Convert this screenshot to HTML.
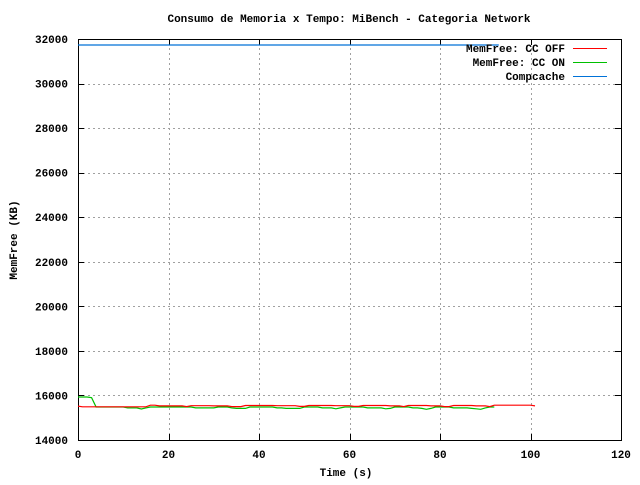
<!DOCTYPE html>
<html><head><meta charset="utf-8"><style>
body{margin:0;background:#fff}
svg text{font-family:"Liberation Mono",monospace;font-size:11px;font-weight:bold;fill:#000}
</style></head><body>
<svg id="chart" width="640" height="480" xmlns="http://www.w3.org/2000/svg">
<rect width="640" height="480" fill="#fff"/>
<g id="grid"></g><g id="axes"></g><g id="series"></g><g id="legend"></g>
</svg>
<script>
const xTicks=[0,20,40,60,80,100,120];
const yTicks=[14000,16000,18000,20000,22000,24000,26000,28000,30000,32000];
const times=[];for(let t=0;t<=101;t++)times.push(t);
const ccOff=[15520,15490,15490,15490,15490,15490,15490,15490,15490,15490,15490,15490,15490,15490,15490,15490,15560,15560,15530,15530,15530,15530,15530,15530,15500,15540,15540,15540,15540,15540,15530,15530,15530,15530,15500,15500,15500,15550,15550,15550,15550,15550,15550,15550,15540,15540,15540,15540,15540,15510,15510,15550,15550,15550,15550,15550,15550,15540,15540,15540,15540,15510,15510,15550,15550,15550,15550,15550,15550,15530,15530,15530,15500,15550,15550,15550,15550,15550,15530,15530,15530,15500,15500,15550,15550,15550,15550,15550,15530,15530,15530,15500,15560,15560,15560,15560,15560,15560,15560,15560,15560,15530];
const ccOn=[15930,15930,15930,15900,15480,15480,15480,15480,15480,15480,15480,15440,15440,15440,15390,15440,15480,15480,15480,15480,15480,15480,15480,15480,15480,15480,15440,15440,15440,15440,15440,15480,15480,15480,15440,15420,15420,15420,15480,15480,15480,15480,15480,15480,15440,15440,15420,15420,15420,15420,15480,15480,15480,15480,15440,15440,15440,15400,15440,15480,15480,15480,15480,15480,15440,15440,15440,15440,15400,15420,15480,15480,15480,15480,15440,15440,15420,15380,15420,15480,15480,15480,15480,15440,15440,15440,15440,15420,15400,15380,15440,15480,15480];
const compTimes=[0,93];
const compcache=[31730,31730];
const X0=78,X1=621,Y0=440,Y1=39;
const xs=v=>X0+(v-0)/120*(X1-X0);
const ys=v=>Y0-(v-14000)/18000*(Y0-Y1);
const NS="http://www.w3.org/2000/svg";
function mk(tag,attrs,parent,txt){const e=document.createElementNS(NS,tag);for(const k in attrs)e.setAttribute(k,attrs[k]);if(txt!==undefined)e.textContent=txt;parent.appendChild(e);return e;}
const grid=document.getElementById('grid'),axes=document.getElementById('axes'),series=document.getElementById('series'),legend=document.getElementById('legend');
xTicks.forEach(v=>{const x=Math.round(xs(v))+0.5;
 if(v>0&&v<120){const g=mk('line',{x1:x,x2:x,y1:Y0,y2:Y1,stroke:'#a0a0a0','stroke-dasharray':'2,3'},grid);}
 const t=mk('text',{x:xs(v),y:Y0+18,'text-anchor':'middle'},axes,String(v));
 mk('line',{x1:x,x2:x,y1:Y0,y2:Y0-6,stroke:'#000'},axes);mk('line',{x1:x,x2:x,y1:Y1,y2:Y1+6,stroke:'#000'},axes);});
yTicks.forEach(v=>{const y=Math.round(ys(v))+0.5;
 if(v>14000&&v<32000){const g=mk('line',{x1:X0,x2:X1,y1:y,y2:y,stroke:'#a0a0a0','stroke-dasharray':'2,3'},grid);}
 const t=mk('text',{x:X0-10,y:ys(v)+4,'text-anchor':'end'},axes,String(v));
 mk('line',{x1:X0,x2:X0+6,y1:y,y2:y,stroke:'#000'},axes);mk('line',{x1:X1,x2:X1-6,y1:y,y2:y,stroke:'#000'},axes);});
const fr=mk('rect',{x:X0+0.5,y:Y1+0.5,width:X1-X0,height:Y0-Y1,fill:'none',stroke:'#000'},axes);

const ti=mk('text',{x:349,y:22,'text-anchor':'middle'},axes,'Consumo de Memoria x Tempo: MiBench - Categoria Network');

const xt=mk('text',{x:346,y:476,'text-anchor':'middle'},axes,'Time (s)');

const yt=mk('text',{x:17,y:240,'text-anchor':'middle',transform:'rotate(-90 17 240)'},axes,'MemFree (KB)');

function line(tx,vals,color,name){const pts=vals.map((v,i)=>xs(tx[i]).toFixed(1)+','+ys(v).toFixed(1)).join(' ');
 const p=mk('polyline',{points:pts,fill:'none',stroke:color,'stroke-width':1.2},series);}
line(compTimes,compcache,'#0072d8','compcache-line');
line(times.slice(0,ccOn.length),ccOn,'#00c000','cc-on-line');
line(times,ccOff,'#ff0000','cc-off-line');
[['MemFree: CC OFF','#ff0000'],['MemFree: CC ON','#00c000'],['Compcache','#0072d8']].forEach((d,i)=>{const y=48+i*14;
 const g=mk('g',{},legend);
 mk('text',{x:565,y:y+4,'text-anchor':'end'},g,d[0]);
 mk('line',{x1:573,x2:607,y1:y+0.5,y2:y+0.5,stroke:d[1]},g);});
</script>
</body></html>
